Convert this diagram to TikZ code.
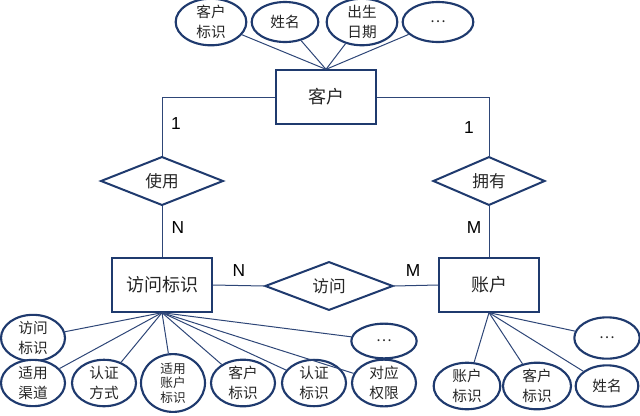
\documentclass[tikz,border=0pt]{standalone}
\usepackage{fontspec}
\setmainfont{Liberation Sans}
\newfontfamily\cjkf{Noto Sans CJK SC}
\usetikzlibrary{shapes.geometric}
\definecolor{navy}{HTML}{1F3A6E}
\definecolor{linec}{HTML}{2E4677}
\definecolor{txt}{HTML}{262626}
\tikzset{
  entity/.style={draw=navy, line width=1.5pt, fill=white, minimum width=75pt, minimum height=40pt, inner sep=0pt, font=\cjkf\fontsize{13.5}{15}\selectfont, text=txt},
  rel/.style={draw=navy, line width=1.5pt, fill=white, diamond, inner sep=0pt, font=\cjkf\fontsize{12.5}{14}\selectfont, text=txt},
  attr/.style={draw=navy, line width=1.6pt, fill=white, ellipse, inner sep=0pt, align=center, font=\cjkf\fontsize{11}{14.5}\selectfont, text=txt},
  conn/.style={draw=linec, line width=0.75pt},
  card/.style={font=\fontsize{13}{15}\selectfont, text=black}
}
\begin{document}
\begin{tikzpicture}[x=0.75pt, y=-0.75pt]
\useasboundingbox (0,0) rectangle (640,415);
% entities
\node[entity] (cust) at (326,97) {客户};
\node[entity] (fwbs) at (162,285) {访问标识};
\node[entity] (acct) at (489,285) {账户};
% relations
\node[rel, minimum width=92pt, minimum height=32pt] (use) at (162,181) {使用};
\node[rel, minimum width=84pt, minimum height=32pt] (own) at (489,181) {拥有};
\node[rel, minimum width=96pt, minimum height=31pt] (visit) at (329,286) {访问};
% customer attributes
\node[attr, minimum width=53pt, minimum height=30pt] (c1) at (211,22) {客户\\标识};
\node[attr, minimum width=50pt, minimum height=30pt] (c2) at (285,22) {姓名};
\node[attr, minimum width=53pt, minimum height=30pt] (c3) at (362,22) {出生\\日期};
\node[attr, minimum width=53pt, minimum height=30pt] (c4) at (438,22) {\ldots};
% access-id attributes
\node[attr, minimum width=48pt, minimum height=27pt] (a1) at (33,338) {访问\\标识};
\node[attr, minimum width=48pt, minimum height=30pt] (a2) at (33,383) {适用\\渠道};
\node[attr, minimum width=48pt, minimum height=30pt] (a3) at (104,383) {认证\\方式};
\node[attr, minimum width=48pt, minimum height=30pt, font=\cjkf\fontsize{9.5}{11}\selectfont] (a4) at (173,383) {适用\\账户\\标识};
\node[attr, minimum width=48pt, minimum height=30pt] (a5) at (243,383) {客户\\标识};
\node[attr, minimum width=48pt, minimum height=30pt] (a6) at (314,383) {认证\\标识};
\node[attr, minimum width=48pt, minimum height=30pt] (a7) at (384,383) {对应\\权限};
\node[attr, minimum width=49pt, minimum height=26pt] (a8) at (384,341) {\ldots};
% account attributes
\node[attr, minimum width=49pt, minimum height=31pt] (b1) at (607,338) {\ldots};
\node[attr, minimum width=50pt, minimum height=31pt] (b2) at (467,386) {账户\\标识};
\node[attr, minimum width=51pt, minimum height=31pt] (b3) at (537,386) {客户\\标识};
\node[attr, minimum width=47pt, minimum height=31pt] (b4) at (607,386) {姓名};
% connectors
\foreach \n in {c1,c2,c3,c4} \draw[conn] (cust.north) -- (\n);
\foreach \n in {a1,a2,a3,a4,a5,a6,a7,a8} \draw[conn] (fwbs.south) -- (\n);
\foreach \n in {b1,b2,b3,b4} \draw[conn] (acct.south) -- (\n);
\draw[conn] (cust.west) -| (use.north);
\draw[conn] (cust.east) -| (own.north);
\draw[conn] (use.south) -- (fwbs.north);
\draw[conn] (own.south) -- (acct.north);
\draw[conn] (fwbs.east) -- (visit.west);
\draw[conn] (visit.east) -- (acct.west);
% cardinalities
\node[card] (k1) at (176,124) {1};
\node[card] (k2) at (469,128) {1};
\node[card] (k3) at (178,228) {N};
\node[card] (k4) at (474,228) {M};
\node[card] (k5) at (239,271) {N};
\node[card] (k6) at (413,271) {M};
\end{tikzpicture}
\end{document}
